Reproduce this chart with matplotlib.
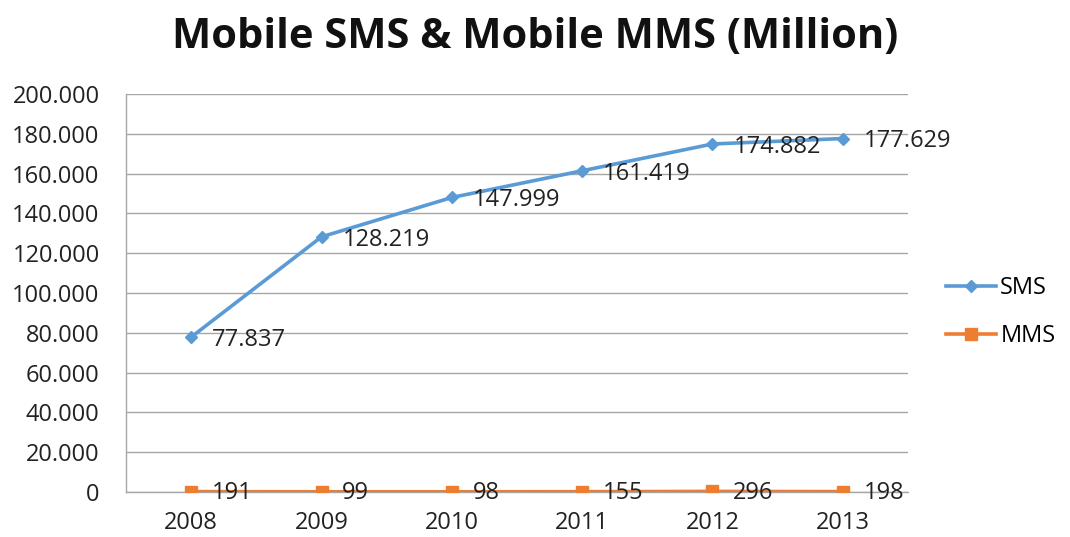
import matplotlib.pyplot as plt
from matplotlib.ticker import FuncFormatter, MultipleLocator

years = ["2008", "2009", "2010", "2011", "2012", "2013"]
sms = [77837, 128219, 147999, 161419, 174882, 177629]
mms = [191, 99, 98, 155, 296, 198]

sms_color = "#5B9BD5"
mms_color = "#ED7D31"
grid_color = "#A6A6A6"


def dotted_thousands(v, pos=None):
    return f"{int(round(v)):,}".replace(",", ".")


plt.rcParams["font.family"] = ["Open Sans", "DejaVu Sans"]

fig = plt.figure(figsize=(10.7, 5.37), dpi=100)
ax = fig.add_axes([126 / 1070, 1 - 492 / 537, (908 - 126) / 1070, (492 - 94) / 537])

x = range(len(years))
ax.plot(x, sms, color=sms_color, lw=2.6, marker="D", ms=6.5, label="SMS", zorder=3)
ax.plot(x, mms, color=mms_color, lw=2.6, marker="s", ms=9, label="MMS", zorder=3)

for i, v in enumerate(sms):
    ax.annotate(dotted_thousands(v), (i, v), xytext=(15, -2), textcoords="offset points",
                ha="left", va="center", fontsize=17, color="#222222")
for i, v in enumerate(mms):
    ax.annotate(dotted_thousands(v), (i, v), xytext=(15, -1), textcoords="offset points",
                ha="left", va="center", fontsize=17, color="#222222")

ax.set_xlim(-0.5, len(years) - 0.5)
ax.set_ylim(0, 200000)
ax.yaxis.set_major_locator(MultipleLocator(20000))
ax.yaxis.set_major_formatter(FuncFormatter(dotted_thousands))
ax.set_xticks(list(x))
ax.set_xticklabels(years)
ax.tick_params(axis="both", length=0, labelsize=17, colors="#222222")
ax.tick_params(axis="x", pad=14)
ax.tick_params(axis="y", pad=19)

ax.grid(axis="y", color=grid_color, lw=1)
ax.set_axisbelow(True)
for side in ["top", "right"]:
    ax.spines[side].set_visible(False)
for side in ["left", "bottom"]:
    ax.spines[side].set_color(grid_color)
    ax.spines[side].set_linewidth(1)

fig.legend(loc="center left", bbox_to_anchor=(946 / 1070, 1 - 312 / 537), frameon=False,
           fontsize=17, handlelength=2.1, labelspacing=1.0, handletextpad=0.2,
           borderpad=0, borderaxespad=0)

fig.text(0.5, 1 - 38 / 537, "Mobile SMS & Mobile MMS (Million)", ha="center", va="center",
         fontsize=30, fontweight="bold", color="#111111")

fig.savefig("out.png", dpi=100)
